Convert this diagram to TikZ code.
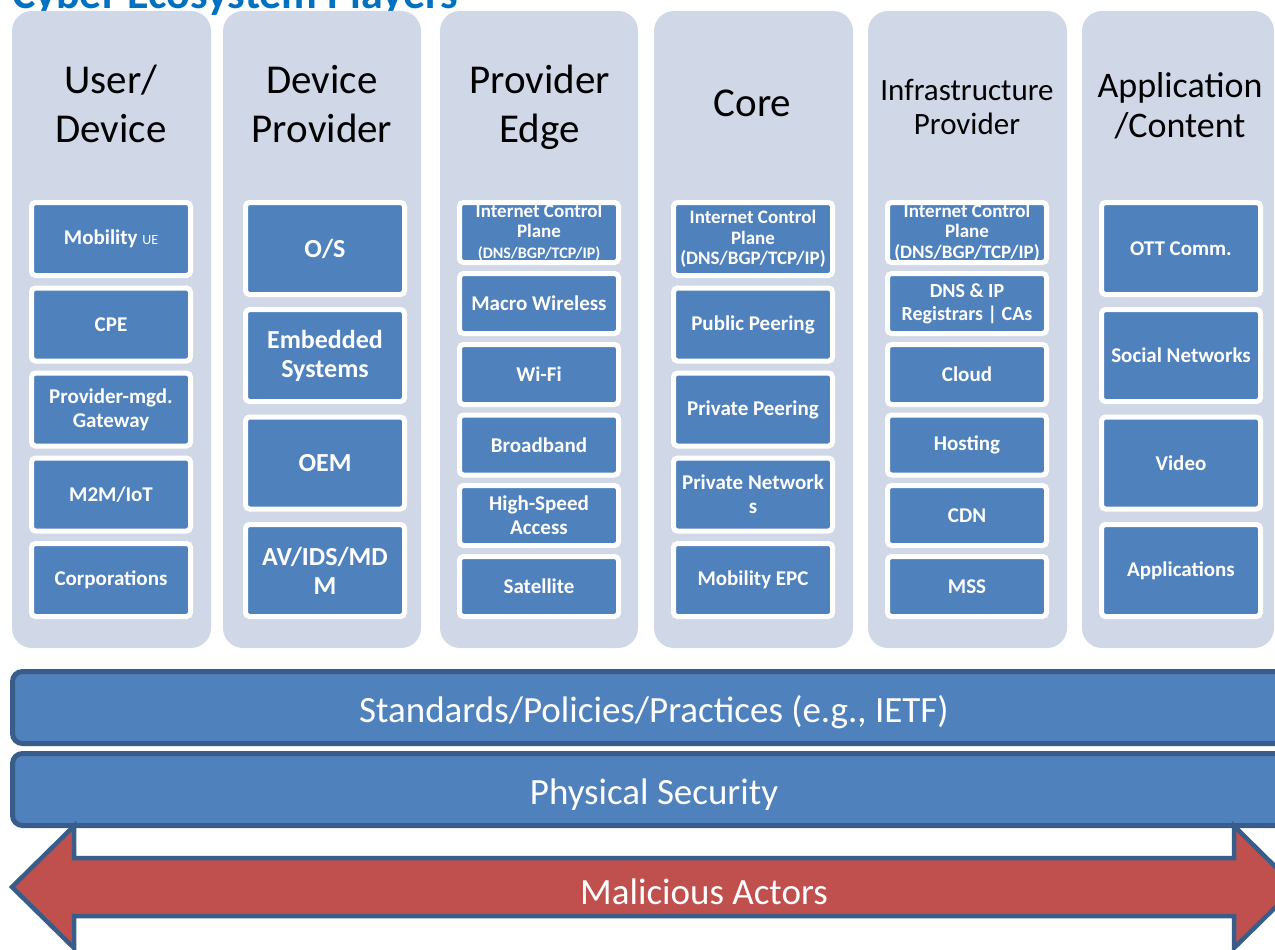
\documentclass[tikz,border=0pt]{standalone}
\usepackage{fontspec}
\setmainfont{Carlito}
\definecolor{panelbg}{HTML}{D0D8E8}
\definecolor{cellblue}{HTML}{4F81BD}
\definecolor{barline}{HTML}{385D8A}
\definecolor{threat}{HTML}{C0504D}
\definecolor{titleblue}{HTML}{0070C0}
\newcommand\fs[2]{\fontsize{#1}{#2}\selectfont}
\tikzset{
  panel/.style={fill=panelbg, draw=none, rounded corners=20pt, inner sep=0pt},
  head/.style={anchor=base, align=center, inner sep=0pt, text=black},
  cell/.style={draw=white, line width=5pt, fill=cellblue, rounded corners=4pt,
    minimum width=159pt, inner sep=0pt, align=center, text=white,
    font={\bfseries\fs{21}{24}}},
  cellA/.style={cell, minimum height=73pt},
  cellB/.style={cell, minimum height=92pt, font={\bfseries\fs{26}{29}}},
  cellC/.style={cell, minimum height=60pt},
  ctrl/.style={font={\bfseries\fs{19}{20.5}}},
  bar/.style={fill=cellblue, draw=barline, line width=5pt, rounded corners=10pt,
    minimum width=1283pt, minimum height=72pt, inner sep=0pt, text=white,
    font=\fs{37}{44}, text height=30pt, text depth=0pt},
  threatarrow/.style={fill=threat, draw=barline, line width=4.5pt, line join=miter},
}
\begin{document}
\begin{tikzpicture}[x=1pt,y=-1pt]
\useasboundingbox (0,0) rectangle (1275,950);
\clip (0,0) rectangle (1275,950);

% title, cut off by the top edge
\node[anchor=base west, inner sep=0pt, text=titleblue, font={\bfseries\fs{44}{50}}]
  (title) at (12,9) {Cyber Ecosystem Players};

% column panels
\node[panel, minimum width=199pt, minimum height=637pt] (p1) at (111.5,329.5) {};
\node[panel, minimum width=198pt, minimum height=637pt] (p2) at (322,329.5) {};
\node[panel, minimum width=198pt, minimum height=637pt] (p3) at (539,329.5) {};
\node[panel, minimum width=199pt, minimum height=637pt] (p4) at (753.5,329.5) {};
\node[panel, minimum width=199pt, minimum height=637pt] (p5) at (967.5,329.5) {};
\node[panel, minimum width=192pt, minimum height=637pt] (p6) at (1178,329.5) {};

% column headings (base anchor sits on the last line)
\node[head, font=\fs{41}{48}] (h1) at (111,142) {User/\\Device};
\node[head, font=\fs{41}{48}] (h2) at (322,142) {Device\\Provider};
\node[head, font=\fs{41}{48}] (h3) at (539.5,142) {Provider\\Edge};
\node[head, font=\fs{41}{48}] (h4) at (752.5,117) {Core};
\node[head, font=\fs{31}{34}] (h5) at (967,134) {Infrastructure\\Provider};
\node[head, font=\fs{36}{40}] (h6) at (1180,137) {Application\\/Content};

% User/Device
\node[cellA] (u1) at (111,239) {Mobility {\mdseries\fs{14}{16}UE}};
\node[cellA] (u2) at (111,324.5) {CPE};
\node[cellA] (u3) at (111,409.5) {Provider-mgd.\\Gateway};
\node[cellA] (u4) at (111,494.5) {M2M/IoT};
\node[cellA] (u5) at (111,580) {Corporations};

% Device Provider
\node[cellB] (d1) at (325,248.5) {O/S};
\node[cellB] (d2) at (325,355.5) {Embedded\\Systems};
\node[cellB] (d3) at (325,463) {OEM};
\node[cellB] (d4) at (325,570.5) {AV/IDS/MD\\M};

% Provider Edge
\node[cellC, ctrl] (e1) at (539,232.5) {Internet Control\\Plane\\{\fs{16}{20}(DNS/BGP/TCP/IP)}};
\node[cellC] (e2) at (539,303.5) {Macro Wireless};
\node[cellC] (e3) at (539,374.5) {Wi-Fi};
\node[cellC] (e4) at (539,445) {Broadband};
\node[cellC] (e5) at (539,515.5) {High-Speed\\Access};
\node[cellC] (e6) at (539,586.5) {Satellite};

% Core
\node[cellA, ctrl] (c1) at (753,239) {Internet Control\\Plane\\(DNS/BGP/TCP/IP)};
\node[cellA] (c2) at (753,324.5) {Public Peering};
\node[cellA] (c3) at (753,409.5) {Private Peering};
\node[cellA] (c4) at (753,494.5) {Private Network\\s};
\node[cellA] (c5) at (753,580) {Mobility EPC};

% Infrastructure Provider
\node[cellC, ctrl] (i1) at (967,232.5) {Internet Control\\Plane\\(DNS/BGP/TCP/IP)};
\node[cellC, font={\bfseries\fs{20}{23}}] (i2) at (967,303.5) {DNS \& IP\\Registrars | CAs};
\node[cellC] (i3) at (967,374.5) {Cloud};
\node[cellC] (i4) at (967,445) {Hosting};
\node[cellC] (i5) at (967,515.5) {CDN};
\node[cellC] (i6) at (967,586.5) {MSS};

% Application/Content
\node[cellB, font={\bfseries\fs{21}{24}}] (a1) at (1181,248.5) {OTT Comm.};
\node[cellB, font={\bfseries\fs{21}{24}}] (a2) at (1181,355.5) {Social Networks};
\node[cellB, font={\bfseries\fs{21}{24}}] (a3) at (1181,463) {Video};
\node[cellB, font={\bfseries\fs{21}{24}}] (a4) at (1181,570.5) {Applications};

% cross-cutting layers
\node[bar] (std) at (654,707.5) {Standards/Policies/Practices (e.g., IETF)};
\node[bar] (phys) at (654,789.5) {Physical Security};

% two-headed threat arrow
\draw[threatarrow] (12,887) -- (74,826) -- (74,858) -- (1234,858) -- (1234,826)
  -- (1296,887) -- (1234,948) -- (1234,916) -- (74,916) -- (74,948) -- cycle;
\node[anchor=base, inner sep=0pt, text=white, font=\fs{37}{44}] (mal) at (704,904) {Malicious Actors};
\end{tikzpicture}
\end{document}
